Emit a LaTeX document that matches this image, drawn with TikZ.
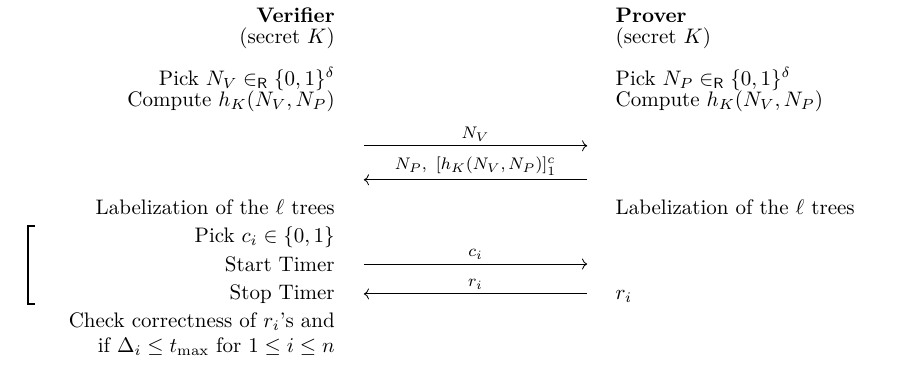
\documentclass[tikz,border=0pt]{standalone}
\usepackage{tikz}
\usetikzlibrary{arrows.meta, positioning}

\begin{document}
\begin{tikzpicture}[
    vside/.style={anchor=east, inner sep=0pt},
    pside/.style={anchor=west, inner sep=0pt},
    msg/.style={font=\footnotesize, above, midway, inner sep=2pt}]
  \useasboundingbox (0,0) rectangle (15.3,-6.18);

  % verifier side
  \node[vside] (vname) at (5.61,-0.25) {\textbf{Verifier}};
  \node[vside] (vkey) at (5.61,-0.64) {(secret $K$)};
  \node[vside] (vpick) at (5.61,-1.32) {Pick $N_V \in_{\mathsf{R}} \{0,1\}^\delta$};
  \node[vside] (vhash) at (5.61,-1.69) {Compute $h_K(N_V,N_P)$};
  \node[vside] (vlabel) at (5.61,-3.47) {Labelization of the $\ell$ trees};
  \node[vside] (vci) at (5.61,-3.97) {Pick $c_i \in \{0,1\}$};
  \node[vside] (vstart) at (5.61,-4.42) {Start Timer};
  \node[vside] (vstop) at (5.61,-4.92) {Stop Timer};
  \node[vside, align=right] (vcheck) at (5.61,-5.59)
    {Check correctness of $r_i$'s and\\if $\Delta_i \le t_{\max}$ for $1 \le i \le n$};

  % prover side
  \node[pside] (pname) at (10.30,-0.25) {\textbf{Prover}};
  \node[pside] (pkey) at (10.30,-0.64) {(secret $K$)};
  \node[pside] (ppick) at (10.30,-1.32) {Pick $N_P \in_{\mathsf{R}} \{0,1\}^\delta$};
  \node[pside] (phash) at (10.30,-1.69) {Compute $h_K(N_V,N_P)$};
  \node[pside] (plabel) at (10.30,-3.47) {Labelization of the $\ell$ trees};
  \node[pside] (pri) at (10.30,-4.96) {$r_i$};

  % message ends
  \coordinate (m1v) at (6.09,-2.44);
  \coordinate (m1p) at (9.83,-2.44);
  \coordinate (m2v) at (6.09,-3.01);
  \coordinate (m2p) at (9.83,-3.01);
  \coordinate (m3v) at (6.09,-4.42);
  \coordinate (m3p) at (9.83,-4.42);
  \coordinate (m4v) at (6.09,-4.92);
  \coordinate (m4p) at (9.83,-4.92);

  % messages
  \draw[->] (m1v) -- node[msg] {$N_V$} (m1p);
  \draw[->] (m2p) -- node[msg] {$N_P,\ [h_K(N_V,N_P)]_1^c$} (m2v);
  \draw[->] (m3v) -- node[msg] {$c_i$} (m3p);
  \draw[->] (m4p) -- node[msg] {$r_i$} (m4v);

  % loop bracket
  \draw[line width=0.8pt] (0.59,-3.78) -- (0.47,-3.78) -- (0.47,-5.09) -- (0.59,-5.09);
\end{tikzpicture}
\end{document}
